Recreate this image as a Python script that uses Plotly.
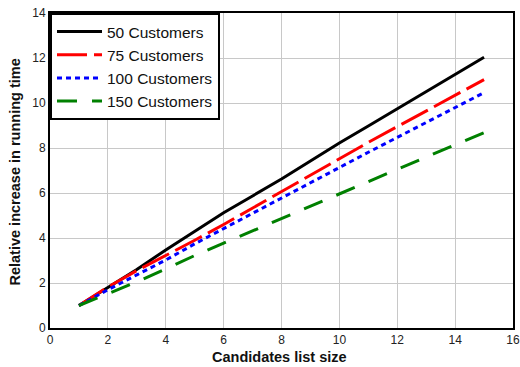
import plotly.graph_objects as go

candidates = [1, 2, 3, 4, 5, 6, 7, 8, 9, 10, 11, 12, 13, 14, 15]
cust50 = [1.0, 1.80, 2.60, 3.47, 4.30, 5.12, 5.87, 6.62, 7.42, 8.22, 8.98, 9.74, 10.50, 11.27, 12.03]
cust75 = [1.0, 1.82, 2.55, 3.22, 3.90, 4.60, 5.33, 6.06, 6.80, 7.55, 8.25, 8.95, 9.65, 10.34, 11.04]
cust100 = [1.0, 1.70, 2.36, 3.02, 3.74, 4.42, 5.08, 5.76, 6.45, 7.15, 7.81, 8.47, 9.13, 9.80, 10.46]
cust150 = [1.0, 1.53, 2.05, 2.62, 3.22, 3.77, 4.32, 4.87, 5.42, 5.98, 6.52, 7.06, 7.60, 8.14, 8.68]

series = [
    ("50 Customers", cust50, "#000000", "solid"),
    ("75 Customers", cust75, "#ff0000", "30px,7px"),
    ("100 Customers", cust100, "#0000ff", "5px,4px"),
    ("150 Customers", cust150, "#008000", "20px,15px"),
]

fig = go.Figure()
for name, vals, color, dash in series:
    fig.add_trace(go.Scatter(x=candidates, y=vals, mode="lines", name=name,
                             line=dict(color=color, width=3, dash=dash)))

L, R, T, B = 49.5, 512.7, 13.3, 327.7
font = "Liberation Sans, Arial, sans-serif"
fig.update_layout(
    width=520, height=367,
    margin=dict(l=L, r=520 - R, t=T, b=367 - B, autoexpand=False),
    plot_bgcolor="white", paper_bgcolor="white",
    font=dict(family=font, size=12, color="#222"),
    showlegend=True,
    legend=dict(x=0, y=1, xanchor="left", yanchor="top",
                bordercolor="black", borderwidth=2, bgcolor="white",
                font=dict(size=15.5, color="#111"), tracegroupgap=0, itemwidth=45),
)
fig.add_annotation(text="<b>Candidates list size</b>", x=(279.5 - L) / (R - L), xref="paper",
                   y=-(357 - B) / (B - T), yref="paper", showarrow=False,
                   xanchor="center", yanchor="middle", font=dict(size=14.5, color="#111"))
fig.add_annotation(text="<b>Relative increase in running time</b>", x=-(L - 14) / (R - L), xref="paper",
                   y=(B - 172) / (B - T), yref="paper", showarrow=False, textangle=-90,
                   xanchor="center", yanchor="middle", font=dict(size=14.5, color="#111"))
fig.update_xaxes(range=[0, 16], dtick=2, tick0=0, showgrid=True, gridcolor="#c8c8c8", gridwidth=1.3,
                 showline=True, linecolor="black", linewidth=2, mirror=True, zeroline=False,
                 ticks="", tickfont=dict(size=12), automargin=False)
fig.update_yaxes(range=[0, 14], dtick=2, tick0=0, showgrid=True, gridcolor="#c8c8c8", gridwidth=1.3,
                 showline=True, linecolor="black", linewidth=2, mirror=True, zeroline=False,
                 ticks="", tickfont=dict(size=12), automargin=False)

fig.write_html("out.html", config={"displayModeBar": False},
               post_script="document.body.style.margin='0';")
